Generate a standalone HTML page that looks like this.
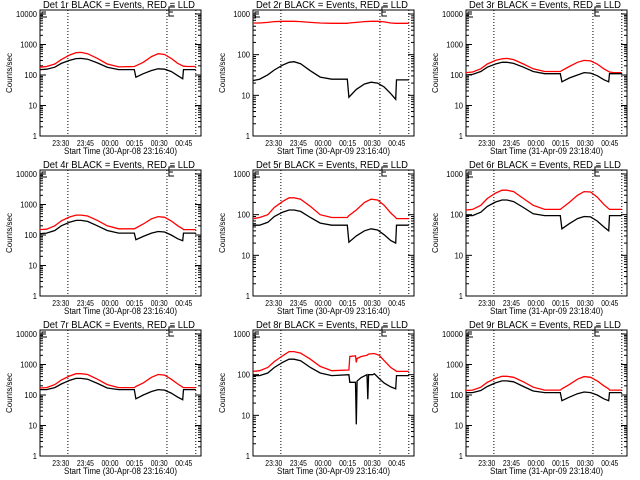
<!DOCTYPE html>
<html><head><meta charset="utf-8"><style>
html,body{margin:0;padding:0;background:#fff}
svg{display:block}
text{font-family:"Liberation Sans",sans-serif;fill:#000}
</style></head><body>
<svg id="chart" width="640" height="480" viewBox="0 0 640 480"></svg>
<script>
const panelTitles = ["Det 1r BLACK = Events, RED = LLD","Det 2r BLACK = Events, RED = LLD","Det 3r BLACK = Events, RED = LLD","Det 4r BLACK = Events, RED = LLD","Det 5r BLACK = Events, RED = LLD","Det 6r BLACK = Events, RED = LLD","Det 7r BLACK = Events, RED = LLD","Det 8r BLACK = Events, RED = LLD","Det 9r BLACK = Events, RED = LLD"];
const xTitles = ["Start Time (30-Apr-08 23:16:40)","Start Time (30-Apr-09 23:16:40)","Start Time (31-Apr-09 23:18:40)","Start Time (30-Apr-08 23:16:40)","Start Time (30-Apr-09 23:16:40)","Start Time (31-Apr-09 23:18:40)","Start Time (30-Apr-08 23:16:40)","Start Time (30-Apr-09 23:16:40)","Start Time (31-Apr-09 23:18:40)"];
const xTickLabels = ["23:30","23:45","00:00","00:15","00:30","00:45"];
const xTickMinutes = [13.3,28.3,43.3,58.3,73.3,88.3];
const dottedMinutes = [17,77.4,95];
const yMaxDecade = [4,3,4,4,3,3,4,3,4];
const timesStd = [0,4,9,13,18,22,25,29,35,41,48,57.5,58.5,63,68,72,76,80,84,87,87.5,90,93,95];
const times8 = [0,4,9,13,18,22,25,29,35,41,48,58.5,59,62.5,63,63.5,66,69.5,70,70.5,73,74,77,80,84,87,87.5,90,93,95];
const black1 = [150,155,180,240,300,345,350,330,250,180,150,150,85,110,140,160,155,130,95,75,150,150,150,150];
const red1 = [180,190,230,320,450,540,550,500,350,230,185,190,200,260,400,500,470,350,240,200,195,190,190,190];
const black2 = [23,25,32,42,55,65,67,60,40,28,25,25,9,14,19,21,20,16,11,8,24,24,24,24];
const red2 = [600,600,620,650,660,660,660,650,620,600,590,590,600,620,650,660,660,640,600,590,590,590,590,590];
const black3 = [100,105,130,180,230,260,260,240,180,130,110,110,60,80,100,120,115,95,70,60,110,110,110,110];
const red3 = [120,125,160,230,300,340,350,320,230,160,130,130,140,190,260,300,290,230,160,130,125,120,120,120];
const black4 = [110,115,140,200,260,300,300,280,200,140,115,115,70,90,115,130,125,100,75,65,115,115,115,115];
const red4 = [150,155,200,290,390,450,450,420,300,200,160,160,170,230,340,400,380,290,200,160,150,150,150,150];
const black5 = [55,55,65,90,115,130,130,120,85,62,55,55,21,30,40,45,42,32,23,20,55,55,55,55];
const red5 = [80,85,100,150,210,260,260,240,160,100,85,85,95,130,200,240,230,170,110,85,80,80,80,80];
const black6 = [95,95,115,160,205,230,230,210,150,105,95,95,45,60,80,90,88,70,50,40,95,95,95,95];
const red6 = [130,135,170,250,340,400,400,370,250,170,135,135,145,200,300,370,360,270,180,140,135,135,135,135];
const black7 = [150,150,175,230,300,350,350,330,240,170,150,150,75,100,130,150,145,115,85,70,150,150,150,150];
const red7 = [170,175,220,310,420,500,500,470,330,220,175,175,190,250,380,470,450,330,230,180,175,175,175,175];
const black8 = [95,95,110,150,200,240,240,220,150,110,95,100,65,65,6,70,85,100,25,100,100,105,80,62,50,45,95,95,95,95];
const red8 = [120,125,150,210,290,370,370,340,240,160,125,130,280,290,200,250,280,300,310,320,330,330,300,220,150,125,120,120,120,120];
const black9 = [120,120,140,190,250,290,290,270,190,135,120,120,65,85,110,125,120,100,75,65,120,120,120,120];
const red9 = [140,145,180,260,350,410,410,380,270,180,145,145,160,220,330,400,380,290,200,160,145,145,145,145];
const blackSeries = [black1,black2,black3,black4,black5,black6,black7,black8,black9];
const redSeries = [red1,red2,red3,red4,red5,red6,red7,red8,red9];
const timeSeries = [timesStd,timesStd,timesStd,timesStd,timesStd,timesStd,timesStd,times8,timesStd];

const NS="http://www.w3.org/2000/svg";
const svg=document.getElementById('chart');
function mk(tag,attrs,parent){const e=document.createElementNS(NS,tag);for(const k in attrs)e.setAttribute(k,attrs[k]);(parent||svg).appendChild(e);return e;}

for(let p=0;p<9;p++){
  const cx=(p%3)*213, cy=Math.floor(p/3)*160;
  const L=cx+40,R=cx+201,T=cy+10,B=cy+136;
  const dec=yMaxDecade[p];
  const per=(B-(cy+14))/dec;
  const xs=t=>L+t*1.64;
  const ys=v=>B-Math.log10(v)*per;
  const g=mk('g',{});
  
  
  const title=mk('text',{x:cx+43,y:cy+8,'font-size':'10',textLength:152,lengthAdjust:'spacingAndGlyphs'},g);
  title.textContent=panelTitles[p];
  
  
  const box=mk('rect',{x:L,y:T,width:R-L,height:B-T,fill:'none',stroke:'#000','stroke-width':1},g);
  
  
  for(let d=0;d<=dec;d++){
    const y=ys(Math.pow(10,d));
    mk('line',{x1:L,x2:L+6,y1:y,y2:y,stroke:'#000'},g);
    mk('line',{x1:R-6,x2:R,y1:y,y2:y,stroke:'#000'},g);
    const s=String(Math.pow(10,d));
    const lab=mk('text',{x:L-3,y:y+3,'text-anchor':'end','font-size':'8',textLength:s.length*4.2,lengthAdjust:'spacingAndGlyphs'},g);
    lab.textContent=s;
    
    
    if(d<dec){for(let m=2;m<10;m++){const ym=ys(m*Math.pow(10,d));
      mk('line',{x1:L,x2:L+3,y1:ym,y2:ym,stroke:'#000'},g);
      mk('line',{x1:R-3,x2:R,y1:ym,y2:ym,stroke:'#000'},g);}}
  }
  const yt=mk('text',{x:0,y:0,'text-anchor':'middle','font-size':'8',transform:`translate(${cx+12},${cy+73}) rotate(-90)`},g);
  yt.textContent='Counts/sec';
  
  
  for(let i=0;i<xTickLabels.length;i++){
    const t=mk('text',{x:xs(xTickMinutes[i])-1,y:cy+146,'text-anchor':'middle','font-size':'8',textLength:17,lengthAdjust:'spacingAndGlyphs'},g);
    t.textContent=xTickLabels[i];
    
    
  }
  const xt=mk('text',{x:cx+64,y:cy+154,'font-size':'9',textLength:113,lengthAdjust:'spacingAndGlyphs'},g);
  xt.textContent=xTitles[p];
  
  
  for(const m of dottedMinutes){
    const dl=mk('line',{x1:xs(m),x2:xs(m),y1:T,y2:B,stroke:'#000','stroke-dasharray':'1,2'},g);
    
    
  }
  const mk1=mk('path',{d:`M${L+6} ${T+2}H${L+2}V${T+7}H${L+7}M${L+2} ${T+4}H${L+5}`,fill:'none',stroke:'#000'},g);
  
  
  const mx=xs(77.4)+2;
  const mk2=mk('path',{d:`M${mx+6} ${T-3}H${mx}V${T+6}H${mx+5}M${mx} ${T+2}H${mx+4}`,fill:'none',stroke:'#000'},g);
  
  
  const tt=timeSeries[p];
  function linePath(vals){let d='';for(let i=0;i<vals.length;i++){d+=(i?'L':'M')+xs(tt[i]).toFixed(1)+' '+ys(vals[i]).toFixed(1);}return d;}
  const red=mk('path',{d:linePath(redSeries[p]),fill:'none',stroke:'#ff0000','stroke-width':1.3},g);
  
  
  const blk=mk('path',{d:linePath(blackSeries[p]),fill:'none',stroke:'#000','stroke-width':1.3},g);
  
  
}
</script>
</body></html>
